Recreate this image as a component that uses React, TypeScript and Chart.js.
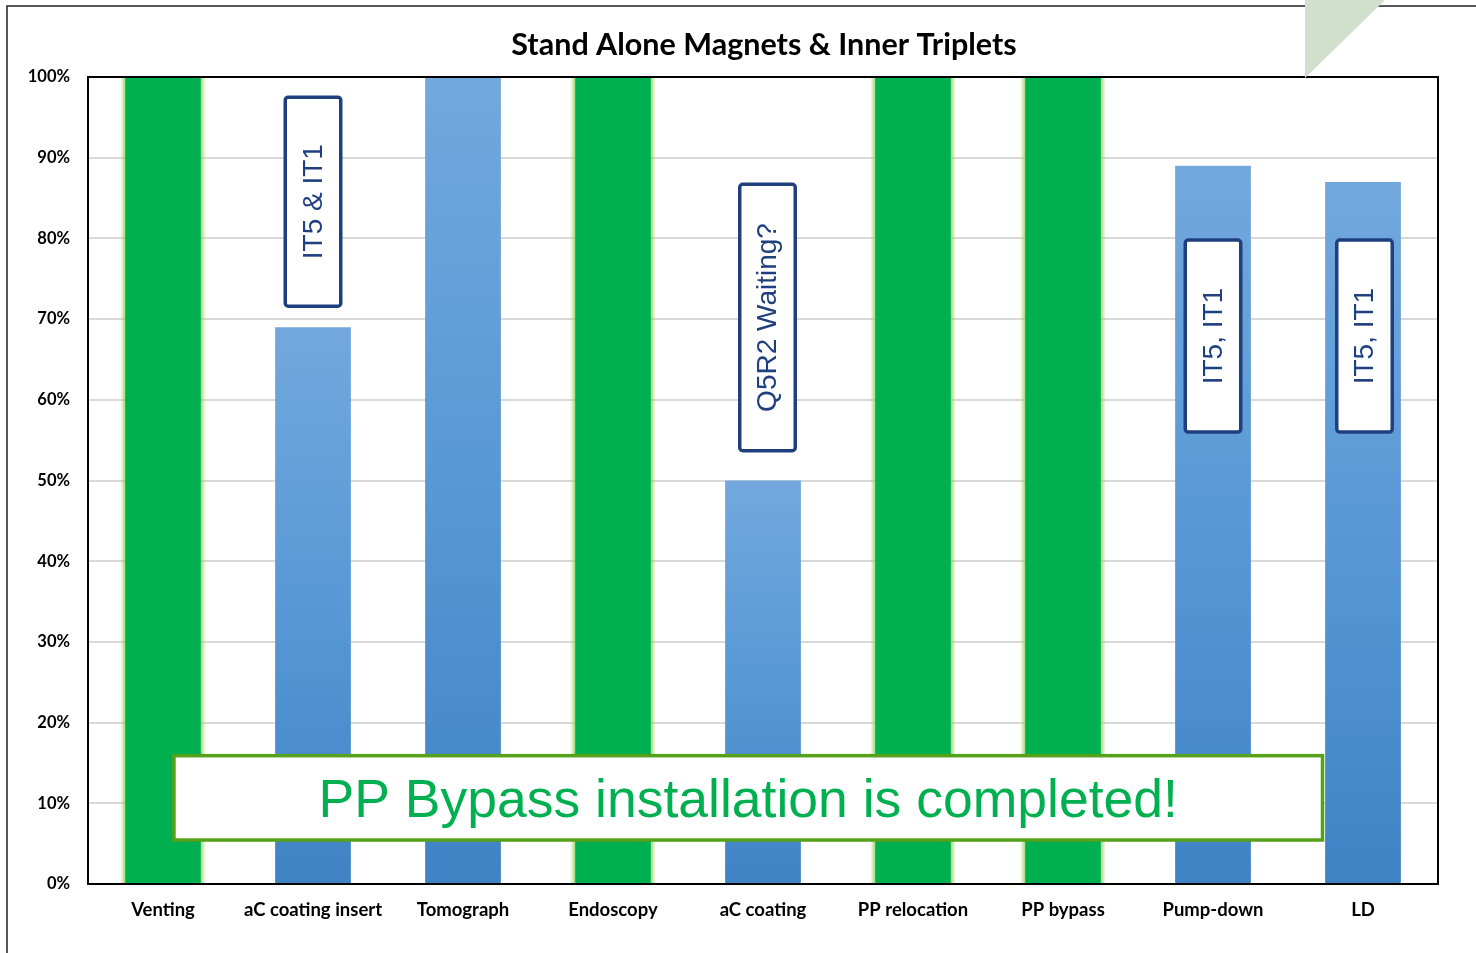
import React, { useEffect, useRef } from "react";
import { Chart, registerables } from "chart.js";

Chart.register(...registerables);

const categories = ["Venting", "aC coating insert", "Tomograph", "Endoscopy", "aC coating", "PP relocation", "PP bypass", "Pump-down", "LD"];
const progress = [100, 69, 100, 100, 50, 100, 100, 89, 87];
const completed = [true, false, false, true, false, true, true, false, false];

const noteTexts = ["IT5 & IT1", "Q5R2 Waiting?", "IT5, IT1", "IT5, IT1"];
const noteIndex = [1, 4.03, 7, 8.01];
const noteTop = [97.5, 86.7, 79.8, 79.8];
const noteBottom = [71.6, 53.7, 56, 56];

const bannerText = "PP Bypass installation is completed!";
const bannerFrom = 0.073;
const bannerTo = 7.73;
const bannerTop = 15.9;
const bannerBottom = 5.45;

const titleText = "Stand Alone Magnets & Inner Triplets";

const GREEN = "#00B050";
const NAVY = "#1F3F7F";

const decorPlugin = {
  id: "decor",
  beforeDatasetsDraw(chart: any) {
    const ctx = chart.ctx;
    const meta = chart.getDatasetMeta(0);
    meta.data.forEach((bar: any, i: number) => {
      if (!completed[i]) return;
      const half = bar.width / 2;
      const glow = 5;
      const top = bar.y;
      const h = bar.base - bar.y;
      let g = ctx.createLinearGradient(bar.x - half - glow, 0, bar.x - half, 0);
      g.addColorStop(0, "rgba(146,208,80,0)");
      g.addColorStop(1, "rgba(146,208,80,0.8)");
      ctx.fillStyle = g;
      ctx.fillRect(bar.x - half - glow, top, glow, h);
      g = ctx.createLinearGradient(bar.x + half, 0, bar.x + half + glow, 0);
      g.addColorStop(0, "rgba(146,208,80,0.8)");
      g.addColorStop(1, "rgba(146,208,80,0)");
      ctx.fillStyle = g;
      ctx.fillRect(bar.x + half, top, glow, h);
    });
  },
  afterDatasetsDraw(chart: any) {
    const ctx = chart.ctx;
    const { left, right, top, bottom } = chart.chartArea;
    const xs = chart.scales.x;
    const ys = chart.scales.y;
    ctx.save();
    ctx.strokeStyle = "#000";
    ctx.lineWidth = 2;
    ctx.strokeRect(left, top, right - left, bottom - top);

    const catW = xs.getPixelForValue(1) - xs.getPixelForValue(0);
    noteTexts.forEach((t, i) => {
      const cx = xs.getPixelForValue(noteIndex[i]);
      const y1 = ys.getPixelForValue(noteTop[i]);
      const y2 = ys.getPixelForValue(noteBottom[i]);
      const hw = catW * 0.185;
      ctx.beginPath();
      ctx.roundRect(cx - hw, y1, hw * 2, y2 - y1, 3);
      ctx.fillStyle = "#fff";
      ctx.fill();
      ctx.lineWidth = 3.5;
      ctx.strokeStyle = NAVY;
      ctx.stroke();
      ctx.save();
      ctx.translate(cx, (y1 + y2) / 2);
      ctx.rotate(-Math.PI / 2);
      ctx.fillStyle = NAVY;
      ctx.font = "28px 'Liberation Sans', Arial, sans-serif";
      ctx.textAlign = "center";
      ctx.textBaseline = "middle";
      ctx.fillText(t, 0, 1);
      ctx.restore();
    });

    const bx1 = xs.getPixelForValue(bannerFrom);
    const bx2 = xs.getPixelForValue(bannerTo);
    const by1 = ys.getPixelForValue(bannerTop);
    const by2 = ys.getPixelForValue(bannerBottom);
    ctx.fillStyle = "#fff";
    ctx.fillRect(bx1, by1, bx2 - bx1, by2 - by1);
    ctx.lineWidth = 3.5;
    ctx.strokeStyle = "#55A11A";
    ctx.strokeRect(bx1, by1, bx2 - bx1, by2 - by1);
    ctx.fillStyle = GREEN;
    ctx.font = "53.5px 'Liberation Sans', Arial, sans-serif";
    ctx.textAlign = "center";
    ctx.textBaseline = "middle";
    ctx.fillText(bannerText, (bx1 + bx2) / 2, (by1 + by2) / 2 + 4);
    ctx.restore();
  },
  afterDraw(chart: any) {
    const ctx = chart.ctx;
    const { left, right } = chart.chartArea;
    ctx.save();
    ctx.fillStyle = "#000";
    ctx.font = "bold 30.5px Lato, 'Open Sans', sans-serif";
    ctx.textAlign = "center";
    ctx.textBaseline = "middle";
    ctx.fillText(titleText, (left + right) / 2 + 1, 45);
    ctx.strokeStyle = "#222";
    ctx.lineWidth = 1.5;
    ctx.beginPath();
    ctx.moveTo(7, 953);
    ctx.lineTo(7, 6);
    ctx.lineTo(1476, 6);
    ctx.stroke();
    ctx.fillStyle = "#D0E0CC";
    ctx.beginPath();
    ctx.moveTo(1305, 0);
    ctx.lineTo(1385, 0);
    ctx.lineTo(1305, 78);
    ctx.closePath();
    ctx.fill();
    ctx.restore();
  },
};

export default function App() {
  const ref = useRef<HTMLCanvasElement>(null);
  useEffect(() => {
    if (!ref.current) return;
    const chart = new Chart(ref.current, {
      type: "bar",
      data: {
        labels: categories,
        datasets: [
          {
            data: progress,
            barPercentage: 0.505,
            categoryPercentage: 1,
            backgroundColor: (c: any) => {
              const i = c.dataIndex;
              if (completed[i]) return GREEN;
              const ch = c.chart;
              const ys = ch.scales.y;
              if (!ys || !ch.chartArea) return "#5B9BD5";
              const yTop = ys.getPixelForValue(progress[i]);
              const yBot = ys.getPixelForValue(0);
              const g = ch.ctx.createLinearGradient(0, yTop, 0, yBot);
              g.addColorStop(0, "#72A8DD");
              g.addColorStop(0.5, "#5898D6");
              g.addColorStop(1, "#3F83C4");
              return g;
            },
            borderWidth: 0,
          },
        ],
      },
      options: {
        responsive: false,
        animation: false,
        layout: { padding: { left: 8, right: 38, top: 77, bottom: 0 } },
        plugins: { legend: { display: false }, tooltip: { enabled: false }, title: { display: false } },
        scales: {
          x: {
            grid: { display: false, drawTicks: false },
            border: { display: false },
            ticks: {
              color: "#000",
              padding: 15,
              font: { family: "Lato, 'Open Sans', sans-serif", size: 18.5, weight: "bold" },
              maxRotation: 0,
              autoSkip: false,
            },
            afterFit: (s: any) => {
              s.height = 69;
            },
          },
          y: {
            min: 0,
            max: 100,
            grid: { color: "#D9D9D9", lineWidth: 2, drawTicks: false },
            border: { display: false },
            ticks: {
              stepSize: 10,
              color: "#000",
              padding: 18,
              font: { family: "Lato, 'Open Sans', sans-serif", size: 16.5, weight: "bold" },
              callback: (v: any) => v + "%",
            },
            afterFit: (s: any) => {
              s.width = 80;
            },
          },
        },
      },
      plugins: [decorPlugin],
    });
    return () => chart.destroy();
  }, []);
  return (
    <div style={{ position: "fixed", left: 0, top: 0, width: 1476, height: 953, background: "#fff" }}>
      <canvas ref={ref} width={1476} height={953} style={{ width: 1476, height: 953, display: "block" }} />
    </div>
  );
}
